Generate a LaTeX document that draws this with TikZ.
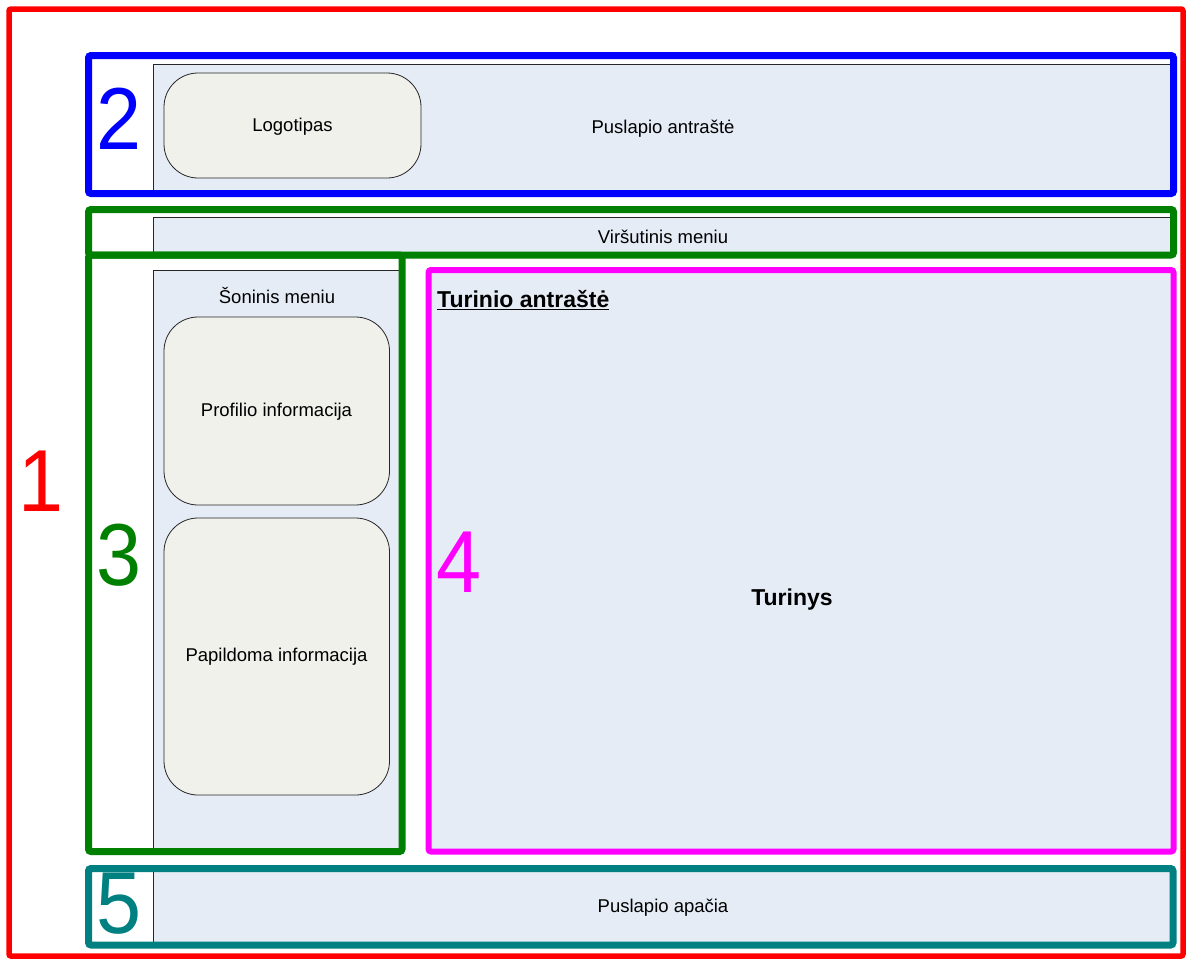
\documentclass[tikz,border=0pt]{standalone}
\usepackage{fontspec}
\setmainfont{Liberation Sans}
\begin{document}
\definecolor{panel}{HTML}{E5ECF6}
\definecolor{block}{HTML}{F0F1EA}
\definecolor{teal5}{HTML}{008080}
\definecolor{green3}{HTML}{008000}
\definecolor{pink4}{HTML}{FF00FF}
\begin{tikzpicture}[x=1pt,y=-1pt,
  panelbox/.style={draw=black!85,line width=0.8pt,fill=panel},
  blockbox/.style={draw=black!85,line width=0.8pt,fill=block,rounded corners=34pt},
  frame/.style={line width=7pt,rounded corners=2.5pt},
  label/.style={inner sep=0pt,font=\fontsize{18.5}{22}\selectfont},
  bold/.style={inner sep=0pt,font=\fontsize{23}{27}\selectfont\bfseries},
  digit/.style={inner sep=0pt,xscale=0.92,font=\fontsize{88}{90}\selectfont}]
\useasboundingbox (0,0) rectangle (1188,959);
% page frame
\draw[red,line width=5.5pt,rounded corners=2pt] (9,9) rectangle (1183,956);
% header
\draw[panelbox] (153,64) rectangle (1173.5,193.5);
\draw[blockbox] (164,73) rectangle (421,178);
\node[label] (logo) at (292.5,127) {Logotipas};
\node[label] (head) at (663,129) {Puslapio antraštė};
\node[digit,blue] (n2) at (119,118.5) {2};
\draw[frame,blue] (88.5,55.5) rectangle (1173.5,193.5);
% top menu
\draw[panelbox] (153,217) rectangle (1173.5,255);
\node[label] (topmenu) at (663,236.5) {Viršutinis meniu};
% side menu
\draw[panelbox] (153,270) rectangle (402,851.5);
\node[label] (sidemenu) at (277,295) {Šoninis meniu};
\draw[blockbox] (164,317) rectangle (389.5,505);
\node[label] (profile) at (276.5,412) {Profilio informacija};
\draw[blockbox] (164,518) rectangle (389.5,795);
\node[label] (extra) at (276.5,657) {Papildoma informacija};
\node[digit,green3] (n3) at (119,555) {3};
\draw[frame,green3] (88.5,209.5) rectangle (1173.5,255);
\draw[frame,green3] (88.5,255) rectangle (402,851.5);
% content
\draw[fill=panel,draw=none] (428.5,270) rectangle (1173.5,851.5);
\node[bold,anchor=west] (ctitle) at (437,300.5) {\underline{Turinio antraštė}};
\node[bold] (content) at (792,600) {Turinys};
\node[digit,pink4] (n4) at (459,562) {4};
\draw[line width=6pt,rounded corners=2.5pt,pink4] (428.5,270) rectangle (1173.5,851.5);
% footer
\draw[panelbox] (153,868.5) rectangle (1173,945);
\node[label] (foot) at (663,908) {Puslapio apačia};
\node[digit,teal5] (n5) at (119,904) {5};
\draw[frame,teal5] (88.5,868.5) rectangle (1173,945);
% page number
\node[digit,red] (n1) at (41,481) {1};
\end{tikzpicture}
\end{document}
